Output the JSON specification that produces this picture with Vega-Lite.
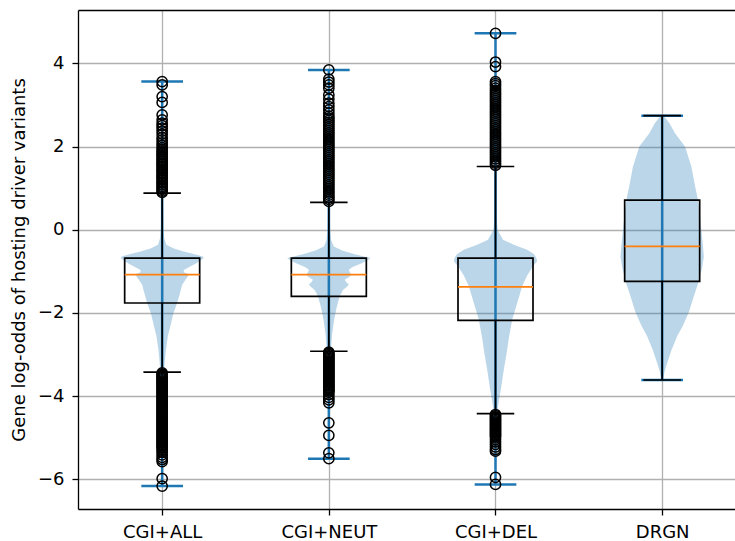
{
  "$schema": "https://vega.github.io/schema/vega-lite/v6.json",
  "width": 657,
  "height": 499,
  "autosize": {"type": "none"},
  "padding": {"left": 78, "top": 10, "right": 0, "bottom": 32},
  "background": "white",
  "config": {
    "view": {"stroke": null},
    "font": "DejaVu Sans",
    "scale": {"continuousPadding": 0},
    "axis": {
      "domainColor": "black", "domainWidth": 1.3,
      "tickColor": "black", "tickWidth": 1.3, "tickSize": 6,
      "gridColor": "#b0b0b0", "gridWidth": 1.3, "gridOpacity": 1,
      "labelColor": "black", "labelFontSize": 18, "labelPadding": 8,
      "titleColor": "black", "titleFontSize": 18, "titleFontWeight": "normal"
    }
  },
  "datasets": {
    "violin": [
      {"pos":1,"v":3.56,"d":0.002},{"pos":1,"v":2.0,"d":0.003},{"pos":1,"v":1.0,"d":0.004},{"pos":1,"v":0.3,"d":0.006},{"pos":1,"v":0.0,"d":0.008},{"pos":1,"v":-0.2,"d":0.012},{"pos":1,"v":-0.36,"d":0.025},{"pos":1,"v":-0.45,"d":0.07},{"pos":1,"v":-0.52,"d":0.13},{"pos":1,"v":-0.58,"d":0.19},{"pos":1,"v":-0.64,"d":0.243},{"pos":1,"v":-0.68,"d":0.25},{"pos":1,"v":-0.74,"d":0.23},{"pos":1,"v":-0.82,"d":0.2},{"pos":1,"v":-0.9,"d":0.16},{"pos":1,"v":-0.97,"d":0.13},{"pos":1,"v":-1.02,"d":0.13},{"pos":1,"v":-1.07,"d":0.16},{"pos":1,"v":-1.12,"d":0.155},{"pos":1,"v":-1.2,"d":0.14},{"pos":1,"v":-1.32,"d":0.12},{"pos":1,"v":-1.48,"d":0.11},{"pos":1,"v":-1.76,"d":0.09},{"pos":1,"v":-2.0,"d":0.068},{"pos":1,"v":-2.3,"d":0.05},{"pos":1,"v":-2.56,"d":0.034},{"pos":1,"v":-2.9,"d":0.022},{"pos":1,"v":-3.2,"d":0.015},{"pos":1,"v":-3.5,"d":0.01},{"pos":1,"v":-4.0,"d":0.007},{"pos":1,"v":-4.6,"d":0.006},{"pos":1,"v":-5.2,"d":0.004},{"pos":1,"v":-5.6,"d":0.003},{"pos":1,"v":-6.16,"d":0.002},
      {"pos":2,"v":3.84,"d":0.002},{"pos":2,"v":2.0,"d":0.003},{"pos":2,"v":1.0,"d":0.004},{"pos":2,"v":0.3,"d":0.006},{"pos":2,"v":0.0,"d":0.008},{"pos":2,"v":-0.25,"d":0.014},{"pos":2,"v":-0.4,"d":0.03},{"pos":2,"v":-0.5,"d":0.08},{"pos":2,"v":-0.58,"d":0.15},{"pos":2,"v":-0.64,"d":0.21},{"pos":2,"v":-0.68,"d":0.25},{"pos":2,"v":-0.74,"d":0.23},{"pos":2,"v":-0.82,"d":0.19},{"pos":2,"v":-0.9,"d":0.14},{"pos":2,"v":-0.96,"d":0.12},{"pos":2,"v":-1.02,"d":0.125},{"pos":2,"v":-1.08,"d":0.135},{"pos":2,"v":-1.14,"d":0.12},{"pos":2,"v":-1.2,"d":0.095},{"pos":2,"v":-1.26,"d":0.105},{"pos":2,"v":-1.32,"d":0.12},{"pos":2,"v":-1.38,"d":0.105},{"pos":2,"v":-1.45,"d":0.085},{"pos":2,"v":-1.6,"d":0.065},{"pos":2,"v":-1.9,"d":0.045},{"pos":2,"v":-2.16,"d":0.032},{"pos":2,"v":-2.5,"d":0.02},{"pos":2,"v":-2.9,"d":0.012},{"pos":2,"v":-3.4,"d":0.008},{"pos":2,"v":-4.0,"d":0.005},{"pos":2,"v":-4.8,"d":0.003},{"pos":2,"v":-5.5,"d":0.002},
      {"pos":3,"v":4.72,"d":0.002},{"pos":3,"v":3.0,"d":0.003},{"pos":3,"v":1.5,"d":0.004},{"pos":3,"v":0.6,"d":0.006},{"pos":3,"v":0.24,"d":0.008},{"pos":3,"v":0.0,"d":0.012},{"pos":3,"v":-0.24,"d":0.045},{"pos":3,"v":-0.36,"d":0.11},{"pos":3,"v":-0.48,"d":0.19},{"pos":3,"v":-0.58,"d":0.23},{"pos":3,"v":-0.68,"d":0.245},{"pos":3,"v":-0.76,"d":0.25},{"pos":3,"v":-0.88,"d":0.225},{"pos":3,"v":-1.1,"d":0.19},{"pos":3,"v":-1.36,"d":0.16},{"pos":3,"v":-1.76,"d":0.13},{"pos":3,"v":-2.16,"d":0.1},{"pos":3,"v":-2.6,"d":0.08},{"pos":3,"v":-2.96,"d":0.067},{"pos":3,"v":-3.36,"d":0.05},{"pos":3,"v":-3.76,"d":0.035},{"pos":3,"v":-4.0,"d":0.025},{"pos":3,"v":-4.24,"d":0.015},{"pos":3,"v":-4.6,"d":0.008},{"pos":3,"v":-5.2,"d":0.004},{"pos":3,"v":-5.7,"d":0.003},{"pos":3,"v":-6.12,"d":0.002},
      {"pos":4,"v":2.74,"d":0.01},{"pos":4,"v":2.55,"d":0.045},{"pos":4,"v":2.32,"d":0.077},{"pos":4,"v":2.0,"d":0.137},{"pos":4,"v":1.52,"d":0.175},{"pos":4,"v":1.0,"d":0.2},{"pos":4,"v":0.72,"d":0.215},{"pos":4,"v":0.3,"d":0.228},{"pos":4,"v":0.0,"d":0.235},{"pos":4,"v":-0.4,"d":0.245},{"pos":4,"v":-0.65,"d":0.25},{"pos":4,"v":-0.9,"d":0.24},{"pos":4,"v":-1.24,"d":0.22},{"pos":4,"v":-1.6,"d":0.19},{"pos":4,"v":-1.98,"d":0.16},{"pos":4,"v":-2.3,"d":0.125},{"pos":4,"v":-2.56,"d":0.09},{"pos":4,"v":-2.9,"d":0.055},{"pos":4,"v":-3.2,"d":0.03},{"pos":4,"v":-3.4,"d":0.015},{"pos":4,"v":-3.61,"d":0.005}
    ],
    "stats": [
      {"pos":1,"group":"CGI+ALL","min":-6.16,"wlo":-3.42,"q1":-1.76,"med":-1.08,"q3":-0.68,"whi":0.88,"max":3.56},
      {"pos":2,"group":"CGI+NEUT","min":-5.5,"wlo":-2.92,"q1":-1.6,"med":-1.08,"q3":-0.68,"whi":0.66,"max":3.84},
      {"pos":3,"group":"CGI+DEL","min":-6.12,"wlo":-4.42,"q1":-2.18,"med":-1.375,"q3":-0.68,"whi":1.52,"max":4.72},
      {"pos":4,"group":"DRGN","min":-3.61,"wlo":-3.61,"q1":-1.24,"med":-0.4,"q3":0.71,"whi":2.74,"max":2.74}
    ],
    "out": [
      {"pos":1,"v":0.9},{"pos":1,"v":0.93},{"pos":1,"v":0.97},{"pos":1,"v":1.01},{"pos":1,"v":1.04},{"pos":1,"v":1.08},{"pos":1,"v":1.12},{"pos":1,"v":1.15},{"pos":1,"v":1.19},{"pos":1,"v":1.23},{"pos":1,"v":1.27},{"pos":1,"v":1.3},{"pos":1,"v":1.34},{"pos":1,"v":1.38},{"pos":1,"v":1.42},{"pos":1,"v":1.45},{"pos":1,"v":1.49},{"pos":1,"v":1.53},{"pos":1,"v":1.57},{"pos":1,"v":1.6},{"pos":1,"v":1.64},{"pos":1,"v":1.68},{"pos":1,"v":1.72},{"pos":1,"v":1.76},{"pos":1,"v":1.8},{"pos":1,"v":1.84},{"pos":1,"v":1.88},{"pos":1,"v":1.92},
      {"pos":1,"v":1.97},{"pos":1,"v":2.03},{"pos":1,"v":2.09},{"pos":1,"v":2.16},{"pos":1,"v":2.22},{"pos":1,"v":2.3},{"pos":1,"v":2.37},{"pos":1,"v":2.44},{"pos":1,"v":2.5},{"pos":1,"v":2.56},{"pos":1,"v":2.64},{"pos":1,"v":2.76},{"pos":1,"v":3.06},{"pos":1,"v":3.2},{"pos":1,"v":3.48},{"pos":1,"v":3.56},
      {"pos":1,"v":-3.44},{"pos":1,"v":-3.47},{"pos":1,"v":-3.5},{"pos":1,"v":-3.52},{"pos":1,"v":-3.55},{"pos":1,"v":-3.58},{"pos":1,"v":-3.61},{"pos":1,"v":-3.64},{"pos":1,"v":-3.67},{"pos":1,"v":-3.7},{"pos":1,"v":-3.72},{"pos":1,"v":-3.75},{"pos":1,"v":-3.78},{"pos":1,"v":-3.81},{"pos":1,"v":-3.84},{"pos":1,"v":-3.87},{"pos":1,"v":-3.9},{"pos":1,"v":-3.93},{"pos":1,"v":-3.96},{"pos":1,"v":-3.99},{"pos":1,"v":-4.02},{"pos":1,"v":-4.05},{"pos":1,"v":-4.08},{"pos":1,"v":-4.11},{"pos":1,"v":-4.14},{"pos":1,"v":-4.17},{"pos":1,"v":-4.2},{"pos":1,"v":-4.23},{"pos":1,"v":-4.26},{"pos":1,"v":-4.29},{"pos":1,"v":-4.32},{"pos":1,"v":-4.35},{"pos":1,"v":-4.38},{"pos":1,"v":-4.41},{"pos":1,"v":-4.44},{"pos":1,"v":-4.47},{"pos":1,"v":-4.5},{"pos":1,"v":-4.53},{"pos":1,"v":-4.56},{"pos":1,"v":-4.59},{"pos":1,"v":-4.62},{"pos":1,"v":-4.65},{"pos":1,"v":-4.68},{"pos":1,"v":-4.71},{"pos":1,"v":-4.74},{"pos":1,"v":-4.77},{"pos":1,"v":-4.8},{"pos":1,"v":-4.83},{"pos":1,"v":-4.86},{"pos":1,"v":-4.89},{"pos":1,"v":-4.92},{"pos":1,"v":-4.95},{"pos":1,"v":-4.98},{"pos":1,"v":-5.01},{"pos":1,"v":-5.04},{"pos":1,"v":-5.07},{"pos":1,"v":-5.1},{"pos":1,"v":-5.13},{"pos":1,"v":-5.16},{"pos":1,"v":-5.19},{"pos":1,"v":-5.22},{"pos":1,"v":-5.25},
      {"pos":1,"v":-5.3},{"pos":1,"v":-5.35},{"pos":1,"v":-5.41},{"pos":1,"v":-5.47},{"pos":1,"v":-5.52},{"pos":1,"v":-5.57},{"pos":1,"v":-5.98},{"pos":1,"v":-6.16},
      {"pos":2,"v":0.68},{"pos":2,"v":0.73},{"pos":2,"v":0.78},{"pos":2,"v":0.83},{"pos":2,"v":0.88},{"pos":2,"v":0.93},{"pos":2,"v":0.98},{"pos":2,"v":1.03},{"pos":2,"v":1.08},{"pos":2,"v":1.13},{"pos":2,"v":1.18},{"pos":2,"v":1.23},{"pos":2,"v":1.28},{"pos":2,"v":1.33},{"pos":2,"v":1.38},{"pos":2,"v":1.43},{"pos":2,"v":1.48},{"pos":2,"v":1.53},{"pos":2,"v":1.58},{"pos":2,"v":1.63},{"pos":2,"v":1.68},{"pos":2,"v":1.73},{"pos":2,"v":1.78},{"pos":2,"v":1.83},{"pos":2,"v":1.88},{"pos":2,"v":1.93},{"pos":2,"v":1.98},{"pos":2,"v":2.03},{"pos":2,"v":2.08},{"pos":2,"v":2.13},{"pos":2,"v":2.18},{"pos":2,"v":2.23},{"pos":2,"v":2.28},{"pos":2,"v":2.33},{"pos":2,"v":2.38},{"pos":2,"v":2.43},{"pos":2,"v":2.48},{"pos":2,"v":2.53},{"pos":2,"v":2.58},{"pos":2,"v":2.63},{"pos":2,"v":2.68},{"pos":2,"v":2.73},{"pos":2,"v":2.8},
      {"pos":2,"v":2.88},{"pos":2,"v":2.96},{"pos":2,"v":3.04},{"pos":2,"v":3.14},{"pos":2,"v":3.24},{"pos":2,"v":3.4},{"pos":2,"v":3.48},{"pos":2,"v":3.55},{"pos":2,"v":3.62},{"pos":2,"v":3.84},
      {"pos":2,"v":-2.94},{"pos":2,"v":-2.97},{"pos":2,"v":-3.0},{"pos":2,"v":-3.03},{"pos":2,"v":-3.06},{"pos":2,"v":-3.09},{"pos":2,"v":-3.12},{"pos":2,"v":-3.15},{"pos":2,"v":-3.18},{"pos":2,"v":-3.21},{"pos":2,"v":-3.24},{"pos":2,"v":-3.27},{"pos":2,"v":-3.3},{"pos":2,"v":-3.33},{"pos":2,"v":-3.36},{"pos":2,"v":-3.39},{"pos":2,"v":-3.42},{"pos":2,"v":-3.45},{"pos":2,"v":-3.48},{"pos":2,"v":-3.51},{"pos":2,"v":-3.54},{"pos":2,"v":-3.57},{"pos":2,"v":-3.6},{"pos":2,"v":-3.63},{"pos":2,"v":-3.66},{"pos":2,"v":-3.69},{"pos":2,"v":-3.72},{"pos":2,"v":-3.75},{"pos":2,"v":-3.78},{"pos":2,"v":-3.81},{"pos":2,"v":-3.84},{"pos":2,"v":-3.87},{"pos":2,"v":-3.9},
      {"pos":2,"v":-3.96},{"pos":2,"v":-4.03},{"pos":2,"v":-4.09},{"pos":2,"v":-4.16},{"pos":2,"v":-4.64},{"pos":2,"v":-4.94},{"pos":2,"v":-5.36},{"pos":2,"v":-5.5},
      {"pos":3,"v":1.55},{"pos":3,"v":1.6},{"pos":3,"v":1.65},{"pos":3,"v":1.7},{"pos":3,"v":1.75},{"pos":3,"v":1.8},{"pos":3,"v":1.85},{"pos":3,"v":1.9},{"pos":3,"v":1.95},{"pos":3,"v":2.0},{"pos":3,"v":2.05},{"pos":3,"v":2.1},{"pos":3,"v":2.15},{"pos":3,"v":2.2},{"pos":3,"v":2.25},{"pos":3,"v":2.3},{"pos":3,"v":2.35},{"pos":3,"v":2.4},{"pos":3,"v":2.45},{"pos":3,"v":2.5},{"pos":3,"v":2.55},{"pos":3,"v":2.6},{"pos":3,"v":2.65},{"pos":3,"v":2.7},{"pos":3,"v":2.75},{"pos":3,"v":2.8},{"pos":3,"v":2.85},{"pos":3,"v":2.9},{"pos":3,"v":2.95},{"pos":3,"v":3.0},{"pos":3,"v":3.05},{"pos":3,"v":3.1},{"pos":3,"v":3.15},{"pos":3,"v":3.2},{"pos":3,"v":3.25},{"pos":3,"v":3.3},{"pos":3,"v":3.35},{"pos":3,"v":3.4},{"pos":3,"v":3.46},{"pos":3,"v":3.51},{"pos":3,"v":3.56},
      {"pos":3,"v":3.92},{"pos":3,"v":4.03},{"pos":3,"v":4.72},
      {"pos":3,"v":-4.44},{"pos":3,"v":-4.47},{"pos":3,"v":-4.5},{"pos":3,"v":-4.53},{"pos":3,"v":-4.56},{"pos":3,"v":-4.59},{"pos":3,"v":-4.62},{"pos":3,"v":-4.65},{"pos":3,"v":-4.68},{"pos":3,"v":-4.71},{"pos":3,"v":-4.74},{"pos":3,"v":-4.77},{"pos":3,"v":-4.8},{"pos":3,"v":-4.83},{"pos":3,"v":-4.86},{"pos":3,"v":-4.89},{"pos":3,"v":-4.92},{"pos":3,"v":-4.95},{"pos":3,"v":-4.98},
      {"pos":3,"v":-5.04},{"pos":3,"v":-5.1},{"pos":3,"v":-5.16},{"pos":3,"v":-5.22},{"pos":3,"v":-5.28},{"pos":3,"v":-5.32},{"pos":3,"v":-5.95},{"pos":3,"v":-6.12}
    ]
  },
  "resolve": {"axis": {"x": "independent"}},
  "layer": [
    {
      "data": {"name": "violin"},
      "transform": [
        {"calculate": "datum.pos - datum.d", "as": "lo"},
        {"calculate": "datum.pos + datum.d", "as": "hi"}
      ],
      "mark": {"type": "area", "orient": "horizontal", "fill": "#1f77b4", "fillOpacity": 0.3, "stroke": null},
      "encoding": {
        "y": {"field": "v", "type": "quantitative", "scale": {"domain": [-6.71, 5.28], "nice": false, "zero": false, "padding": 0},
          "axis": {"values": [-6, -4, -2, 0, 2, 4], "grid": true, "title": "Gene log-odds of hosting driver variants", "titlePadding": 9}},
        "x": {"field": "lo", "type": "quantitative", "scale": {"domain": [0.495, 4.437], "nice": false, "zero": false, "padding": 0},
          "axis": {"values": [1, 2, 3, 4], "grid": true, "title": null, "labelExpr": "datum.value == 1 ? 'CGI+ALL' : datum.value == 2 ? 'CGI+NEUT' : datum.value == 3 ? 'CGI+DEL' : 'DRGN'"}},
        "x2": {"field": "hi"},
        "detail": {"field": "pos", "type": "nominal"}
      }
    },
    {
      "data": {"name": "stats"},
      "mark": {"type": "rule", "color": "#1f77b4", "strokeWidth": 2.5},
      "encoding": {
        "x": {"field": "pos", "type": "quantitative", "axis": {"orient": "top", "labels": false, "ticks": false, "grid": false, "title": null, "domain": true}},
        "y": {"field": "min", "type": "quantitative"},
        "y2": {"field": "max"}
      }
    },
    {
      "data": {"name": "stats"},
      "transform": [{"fold": ["min", "max"], "as": ["k", "val"]}],
      "mark": {"type": "tick", "orient": "horizontal", "color": "#1f77b4", "size": 41.7, "thickness": 2.5, "opacity": 1},
      "encoding": {
        "x": {"field": "pos", "type": "quantitative", "axis": null},
        "y": {"field": "val", "type": "quantitative"}
      }
    },
    {
      "data": {"name": "stats"},
      "mark": {"type": "bar", "size": 75, "fill": "white", "fillOpacity": 0, "stroke": "black", "strokeWidth": 1.7},
      "encoding": {
        "x": {"field": "pos", "type": "quantitative", "axis": null},
        "y": {"field": "q1", "type": "quantitative"},
        "y2": {"field": "q3"}
      }
    },
    {
      "data": {"name": "stats"},
      "mark": {"type": "rule", "color": "black", "strokeWidth": 1.7},
      "encoding": {
        "x": {"field": "pos", "type": "quantitative", "axis": null},
        "y": {"field": "q3", "type": "quantitative"},
        "y2": {"field": "whi"}
      }
    },
    {
      "data": {"name": "stats"},
      "mark": {"type": "rule", "color": "black", "strokeWidth": 1.7},
      "encoding": {
        "x": {"field": "pos", "type": "quantitative", "axis": null},
        "y": {"field": "wlo", "type": "quantitative"},
        "y2": {"field": "q1"}
      }
    },
    {
      "data": {"name": "stats"},
      "transform": [{"fold": ["wlo", "whi"], "as": ["k", "val"]}],
      "mark": {"type": "tick", "orient": "horizontal", "color": "black", "size": 37.5, "thickness": 1.7, "opacity": 1},
      "encoding": {
        "x": {"field": "pos", "type": "quantitative", "axis": null},
        "y": {"field": "val", "type": "quantitative"}
      }
    },
    {
      "data": {"name": "stats"},
      "mark": {"type": "tick", "orient": "horizontal", "color": "#ff7f0e", "size": 75, "thickness": 1.7, "opacity": 1},
      "encoding": {
        "x": {"field": "pos", "type": "quantitative", "axis": null},
        "y": {"field": "med", "type": "quantitative"}
      }
    },
    {
      "data": {"name": "out"},
      "mark": {"type": "point", "shape": "circle", "filled": false, "stroke": "black", "strokeWidth": 1.5, "size": 105, "opacity": 1},
      "encoding": {
        "x": {"field": "pos", "type": "quantitative", "axis": null},
        "y": {"field": "v", "type": "quantitative"}
      }
    }
  ]
}
